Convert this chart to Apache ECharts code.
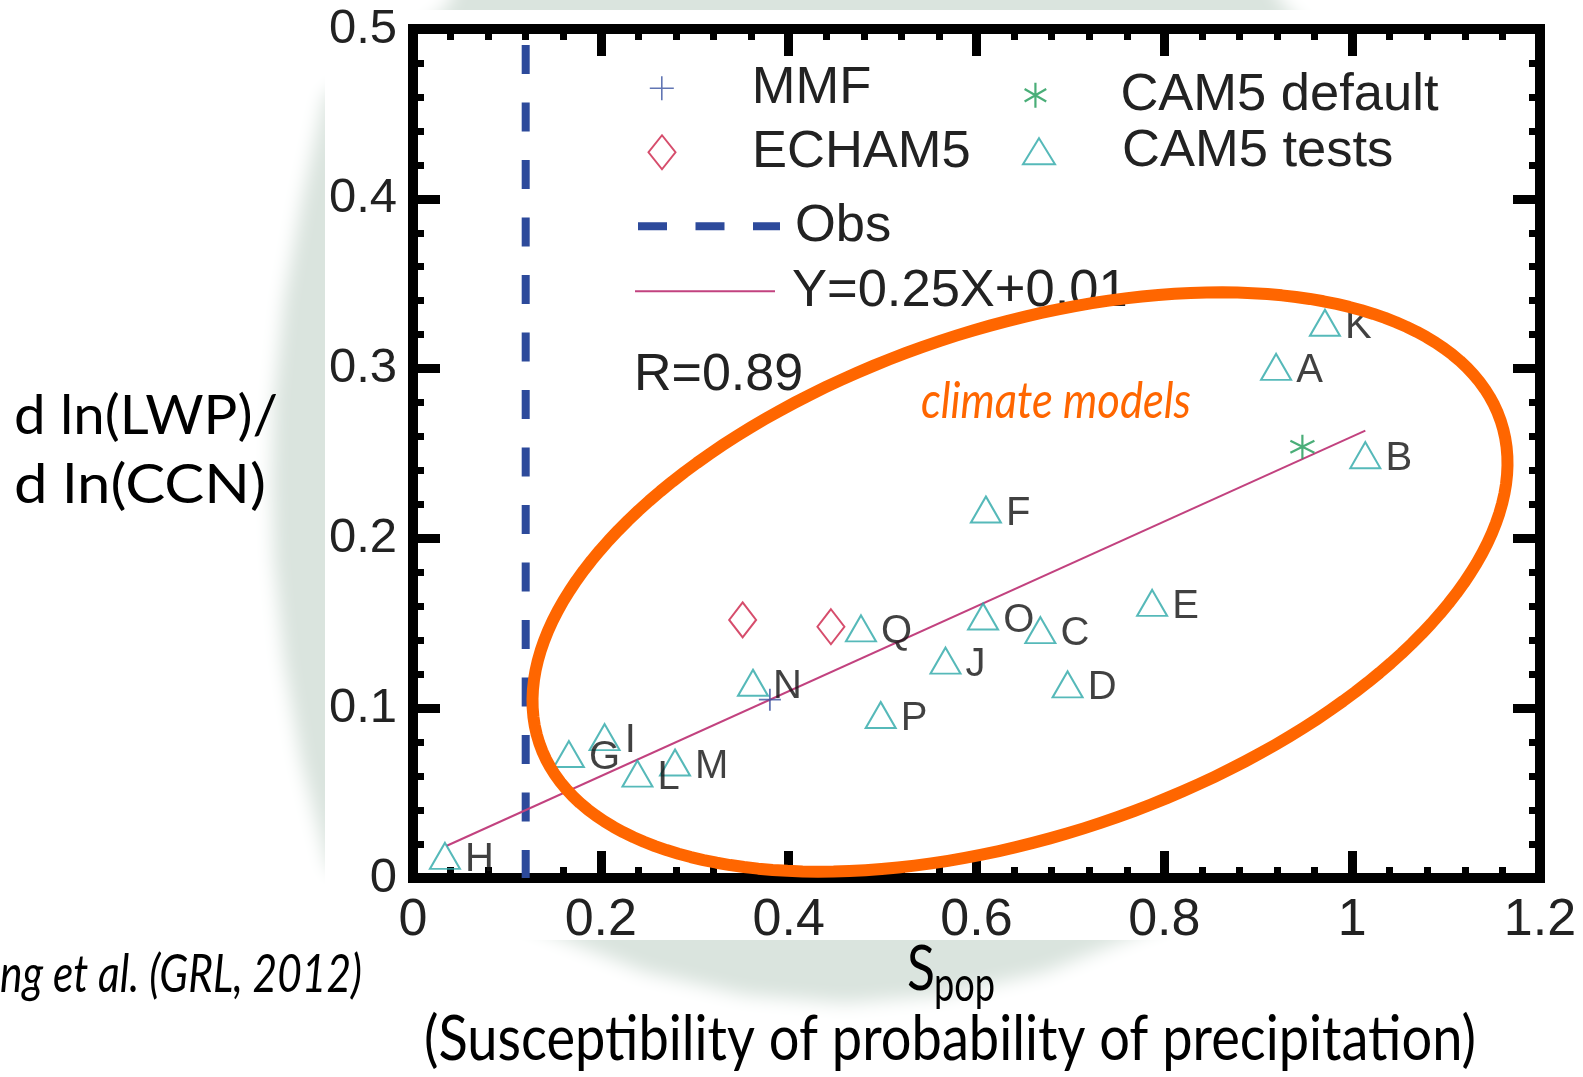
<!DOCTYPE html>
<html>
<head>
<meta charset="utf-8">
<script src="https://cdn.jsdelivr.net/npm/echarts@6/dist/echarts.min.js"></script>
<style>
  html, body { margin: 0; padding: 0; background: #ffffff; }
  #chart { width: 1583px; height: 1077px; }
</style>
</head>
<body>
<div id="chart"></div>
<script>
// ---- data -------------------------------------------------------------
// CAM5 sensitivity tests: label, S_pop, d ln(LWP)/d ln(CCN)
const testLabels = ['A', 'B', 'C', 'D', 'E', 'F', 'G', 'H', 'I', 'J', 'K', 'L', 'M', 'N', 'O', 'P', 'Q'];
const testX = [0.919, 1.014, 0.668, 0.697, 0.787, 0.610, 0.166, 0.034, 0.204, 0.567, 0.971, 0.239, 0.279, 0.362, 0.607, 0.498, 0.477];
const testY = [0.301, 0.249, 0.146, 0.114, 0.162, 0.217, 0.073, 0.013, 0.083, 0.128, 0.327, 0.0615, 0.068, 0.115, 0.154, 0.096, 0.147];

const mmfX = [0.380];
const mmfY = [0.105];

const echamX = [0.351, 0.445];
const echamY = [0.152, 0.148];

const camDefaultX = [0.947];
const camDefaultY = [0.254];

// observed susceptibility (vertical reference)
const obsX = 0.12;
const obsYRange = [0.5, 0];

// least-squares fit Y = 0.25X + 0.01 over the model range
const fitSlope = 0.25;
const fitIntercept = 0.01;
const fitXRange = [0.036, 1.014];
const corrR = 0.89;

const xTickLabels = ['0', '0.2', '0.4', '0.6', '0.8', '1', '1.2'];
const yTickLabels = ['0', '0.1', '0.2', '0.3', '0.4', '0.5'];

// ---- styling ----------------------------------------------------------
const C_TEST = '#2ca7a8';
const C_ECHAM = '#cc2147';
const C_MMF = '#3a53a0';
const C_DEFAULT = '#1d9a56';
const C_OBS = '#2d4a9b';
const C_FIT = '#c2427f';
const C_RING = '#ff6600';
const C_HALO = '#dae4de';
const FIG_FONT = 'Liberation Sans';
const SLIDE_FONT = 'Lato';

const SYM_PLUS = 'path://M5,0 L5,10 M0,5 L10,5';
const SYM_STAR = 'path://M5,0 L5,10 M0.67,2.5 L9.33,7.5 M0.67,7.5 L9.33,2.5';

const pts = (xs, ys) => xs.map((x, i) => [x, ys[i]]);
const fitData = fitXRange.map(x => [x, fitSlope * x + fitIntercept]);
const obsData = obsYRange.map(y => [obsX, y]);

// ---- axes -------------------------------------------------------------
function frameAxis(kind, position, showLabel) {
  const isX = kind === 'x';
  return {
    type: 'value',
    position: position,
    min: 0,
    max: isX ? 1.2 : 0.5,
    interval: isX ? 0.2 : 0.1,
    axisLine: { show: true, onZero: false, lineStyle: { color: '#000', width: 10, cap: 'square' } },
    axisTick: { show: true, inside: true, length: 27, lineStyle: { color: '#000', width: 9 } },
    minorTick: { show: true, splitNumber: 5, length: 11, lineStyle: { color: '#000', width: 7 } },
    splitLine: { show: false },
    minorSplitLine: { show: false },
    axisLabel: {
      show: showLabel,
      showMinLabel: true,
      showMaxLabel: true,
      margin: isX ? 17 : 16,
      fontSize: isX ? 52 : 49,
      fontFamily: FIG_FONT,
      color: '#222',
      formatter: isX
        ? v => xTickLabels[Math.round(v / 0.2)]
        : v => yTickLabels[Math.round(v / 0.1)]
    },
    silent: true
  };
}

// ---- legend (one component per entry for exact placement) -------------
const LEGEND_FS = 52.5;
function legendEntry(name, cx, cy, w, h, textLeft, extra) {
  return Object.assign({
    data: [name],
    left: cx - w / 2,
    top: cy - LEGEND_FS / 2,
    itemWidth: w,
    itemHeight: h,
    padding: 0,
    selectedMode: false,
    textStyle: {
      fontSize: LEGEND_FS, fontFamily: FIG_FONT, color: '#222',
      padding: [0, 0, 0, textLeft - (cx - w / 2 + w + 5)]
    }
  }, extra || {});
}

// ---- slide annotations -------------------------------------------------
const measureCtx = document.createElement('canvas').getContext('2d');
function slideText(text, left, midY, size, width, italic, color) {
  const fs = italic ? 'italic' : 'normal';
  measureCtx.font = fs + ' normal ' + size + 'px ' + SLIDE_FONT;
  const sx = width / measureCtx.measureText(text).width;
  return {
    type: 'text', x: left, y: midY, scaleX: sx, z: 50, silent: true,
    style: {
      text: text, fontSize: size, fontFamily: SLIDE_FONT, fontStyle: fs,
      fill: color || '#000', align: 'left', verticalAlign: 'middle'
    }
  };
}

// soft halo behind the figure panel (left lens, top band, bottom lens)
const haloPts = [
  [462, -30], [1262, -30], [1284, 6], [1340, 60], [1500, 200], [1500, 850], [1190, 915],
  [1125, 940], [1045, 972], [945, 995], [845, 1003], [745, 995], [645, 972], [565, 940],
  [500, 913], [329, 870], [301, 760], [284, 660], [274, 560], [272, 482], [274, 400],
  [284, 300], [302, 200], [325, 95], [410, 38], [448, 6]
];

// hand-drawn ring around the climate-model cluster (tilted ellipse)
const RING = { cx: 1020, cy: 582, rx: 507, ry: 254, tilt: 18.5 * Math.PI / 180 };
const ringPts = [];
for (let k = 0; k < 180; k++) {
  const t = k / 180 * 2 * Math.PI;
  const u = RING.rx * Math.cos(t), v = RING.ry * Math.sin(t);
  ringPts.push([
    RING.cx + u * Math.cos(RING.tilt) + v * Math.sin(RING.tilt),
    RING.cy - u * Math.sin(RING.tilt) + v * Math.cos(RING.tilt)
  ]);
}

const option = {
  animation: false,
  backgroundColor: '#ffffff',
  grid: { left: 413, top: 29, width: 1127, height: 849, containLabel: false },
  xAxis: [frameAxis('x', 'bottom', true), frameAxis('x', 'top', false)],
  yAxis: [frameAxis('y', 'left', true), frameAxis('y', 'right', false)],
  legend: [
    legendEntry('MMF', 661, 88, 24, 24, 751, { itemStyle: { borderWidth: 1.6 } }),
    legendEntry('ECHAM5', 661, 152, 27, 34, 751, { itemStyle: { borderWidth: 2 } }),
    legendEntry('CAM5 default', 1036, 95, 25, 25, 1121, { itemStyle: { borderWidth: 2.2 } }),
    legendEntry('CAM5 tests', 1038, 151, 32, 26, 1121, { itemStyle: { borderWidth: 2 } }),
    legendEntry('Obs', 705, 226, 142, 14, 791, {
      lineStyle: { width: 8, dashOffset: 0 },
      itemStyle: { opacity: 0, borderWidth: 0 }
    }),
    legendEntry('Y=0.25X+0.01', 704, 291, 140, 10, 791, {
      lineStyle: { width: 2 },
      itemStyle: { opacity: 0, borderWidth: 0 }
    })
  ],
  series: [
    {
      name: 'Obs', type: 'line', data: obsData, symbol: 'none', showSymbol: false, silent: true, z: 3,
      lineStyle: { color: C_OBS, width: 8, type: [29, 28.5], dashOffset: 41.5 },
      emphasis: { disabled: true }
    },
    {
      name: 'Y=0.25X+0.01', type: 'line', data: fitData, symbol: 'none', showSymbol: false, silent: true, z: 4,
      lineStyle: { color: C_FIT, width: 2 },
      emphasis: { disabled: true }
    },
    {
      name: 'CAM5 tests', type: 'scatter', silent: true, z: 5,
      data: testLabels.map((n, i) => ({ name: n, value: [testX[i], testY[i]] })),
      symbol: 'triangle', symbolSize: [30, 26],
      itemStyle: { color: 'rgba(0,0,0,0)', borderColor: C_TEST, borderWidth: 2 },
      label: {
        show: true, position: 'right', distance: 4, offset: [0, 4], formatter: '{b}',
        fontSize: 40, fontFamily: FIG_FONT, color: '#111'
      },
      emphasis: { disabled: true }
    },
    {
      name: 'ECHAM5', type: 'scatter', silent: true, z: 5,
      data: pts(echamX, echamY),
      symbol: 'diamond', symbolSize: [27, 35],
      itemStyle: { color: 'rgba(0,0,0,0)', borderColor: C_ECHAM, borderWidth: 2 },
      emphasis: { disabled: true }
    },
    {
      name: 'MMF', type: 'scatter', silent: true, z: 6,
      data: pts(mmfX, mmfY),
      symbol: SYM_PLUS, symbolSize: 22,
      itemStyle: { color: 'rgba(0,0,0,0)', borderColor: C_MMF, borderWidth: 1.8 },
      emphasis: { disabled: true }
    },
    {
      name: 'CAM5 default', type: 'scatter', silent: true, z: 6,
      data: pts(camDefaultX, camDefaultY),
      symbol: SYM_STAR, symbolSize: 24,
      itemStyle: { color: 'rgba(0,0,0,0)', borderColor: C_DEFAULT, borderWidth: 2.2 },
      emphasis: { disabled: true }
    }
  ],
  graphic: [
    {
      type: 'polygon', z: -20, x: -3000, silent: true,
      shape: { points: haloPts },
      style: { fill: C_HALO, shadowBlur: 18, shadowColor: C_HALO, shadowOffsetX: 3000 }
    },
    {
      type: 'rect', z: -10, silent: true,
      shape: { x: 325, y: 10, width: 1258, height: 930 },
      style: { fill: '#ffffff' }
    },
    {
      type: 'polygon', z: 100, silent: true,
      shape: { points: ringPts },
      style: { fill: 'none', stroke: C_RING, lineWidth: 12, lineJoin: 'round' }
    },
    {
      type: 'text', x: 634, y: 376, z: 50, silent: true,
      style: { text: 'R=' + corrR.toFixed(2), fontSize: 52, fontFamily: FIG_FONT, fill: '#222', align: 'left', verticalAlign: 'middle' }
    },
    slideText('climate models', 921, 402, 50, 270, true, C_RING),
    slideText('d ln(LWP)/', 14, 417, 54, 264, false),
    slideText('d ln(CCN)', 14, 486, 54, 252, false),
    slideText('ng et al. (GRL, 2012)', 0, 975, 52, 362, true),
    slideText('S', 907, 970, 62, 28, false),
    slideText('pop', 934, 986, 48, 61, false),
    slideText('(Susceptibility of probability of precipitation)', 424, 1040, 62, 1052, false)
  ]
};

const chart = echarts.init(document.getElementById('chart'), null, { renderer: 'canvas' });
chart.setOption(option);
</script>
</body>
</html>
